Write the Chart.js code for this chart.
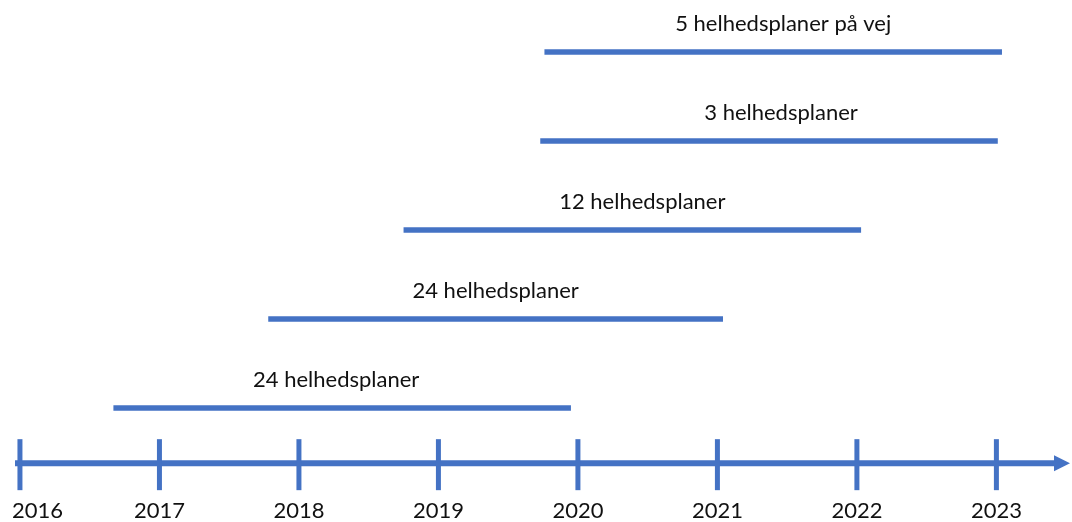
<!DOCTYPE html>
<html>
<head>
<meta charset="utf-8">
<script src="https://cdn.jsdelivr.net/npm/chart.js@4/dist/chart.umd.min.js"></script>
<style>
  html, body { margin: 0; padding: 0; background: #fff; }
  #wrap { width: 1072px; height: 522px; }
</style>
</head>
<body>
<div id="wrap"><canvas id="myChart" width="1072" height="522"></canvas></div>
<script>
const planLabels = [
  "24 helhedsplaner",
  "24 helhedsplaner",
  "12 helhedsplaner",
  "3 helhedsplaner",
  "5 helhedsplaner på vej",
];

const startYears = [2016.67, 2017.78, 2018.75, 2019.73, 2019.76];
const endYears = [2019.95, 2021.04, 2022.03, 2023.01, 2023.04];

const tickYears = [2016, 2017, 2018, 2019, 2020, 2021, 2022, 2023];
const tickLabels = ["2016", "2017", "2018", "2019", "2020", "2021", "2022", "2023"];

const blue = "#4472C4";
const font = "22px Lato, 'Open Sans', sans-serif";

// one line per plan, stacked upwards row by row
const datasets = planLabels.map((label, i) => ({
  label: label,
  data: [
    { x: startYears[i], y: i + 1 },
    { x: endYears[i], y: i + 1 },
  ],
  borderColor: blue,
  borderWidth: 5.5,
  borderCapStyle: "butt",
  pointRadius: 0,
  clip: false,
}));

const timeline = {
  id: "timeline",
  afterDatasetsDraw(chart, args, opts) {
    const { ctx, chartArea } = chart;
    const x = chart.scales.x;
    const y = chart.scales.y;
    const axisY = y.getPixelForValue(opts.axisLevel);

    ctx.save();
    ctx.strokeStyle = blue;
    ctx.fillStyle = blue;

    // axis with arrow head
    const left = chartArea.left + 15;
    const right = chartArea.right - 2;
    ctx.lineWidth = 6;
    ctx.beginPath();
    ctx.moveTo(left, axisY);
    ctx.lineTo(right - 14, axisY);
    ctx.stroke();
    ctx.beginPath();
    ctx.moveTo(right, axisY);
    ctx.lineTo(right - 16, axisY - 8);
    ctx.lineTo(right - 16, axisY + 8);
    ctx.closePath();
    ctx.fill();

    // year ticks
    ctx.lineWidth = 5;
    tickYears.forEach((yr) => {
      const px = x.getPixelForValue(yr);
      ctx.beginPath();
      ctx.moveTo(px, axisY - 24);
      ctx.lineTo(px, axisY + 27);
      ctx.stroke();
    });

    ctx.fillStyle = "#111";
    ctx.font = font;
    ctx.textAlign = "center";
    ctx.textBaseline = "middle";
    tickYears.forEach((yr, i) => {
      const half = ctx.measureText(tickLabels[i]).width / 2;
      const px = Math.max(x.getPixelForValue(yr), chartArea.left + half + 12);
      ctx.fillText(tickLabels[i], px, axisY + 48);
    });

    // plan labels above each line
    planLabels.forEach((label, i) => {
      const mid = (startYears[i] + endYears[i]) / 2;
      ctx.fillText(label, x.getPixelForValue(mid) + opts.labelShift[i], y.getPixelForValue(i + 1) - 28);
    });
    ctx.restore();
  },
};

const myChart = new Chart(document.getElementById("myChart"), {
  type: "line",
  data: { datasets: datasets },
  options: {
    responsive: false,
    animation: false,
    layout: { padding: 0 },
    plugins: {
      legend: { display: false },
      tooltip: { enabled: false },
      timeline: { axisLevel: 0.38, labelShift: [-6, 0, 10, 12, 10] },
    },
    scales: {
      x: { type: "linear", min: 2015.857, max: 2023.542, display: false },
      y: { type: "linear", min: -0.281, max: 5.584, display: false },
    },
  },
  plugins: [timeline],
});
</script>
</body>
</html>
